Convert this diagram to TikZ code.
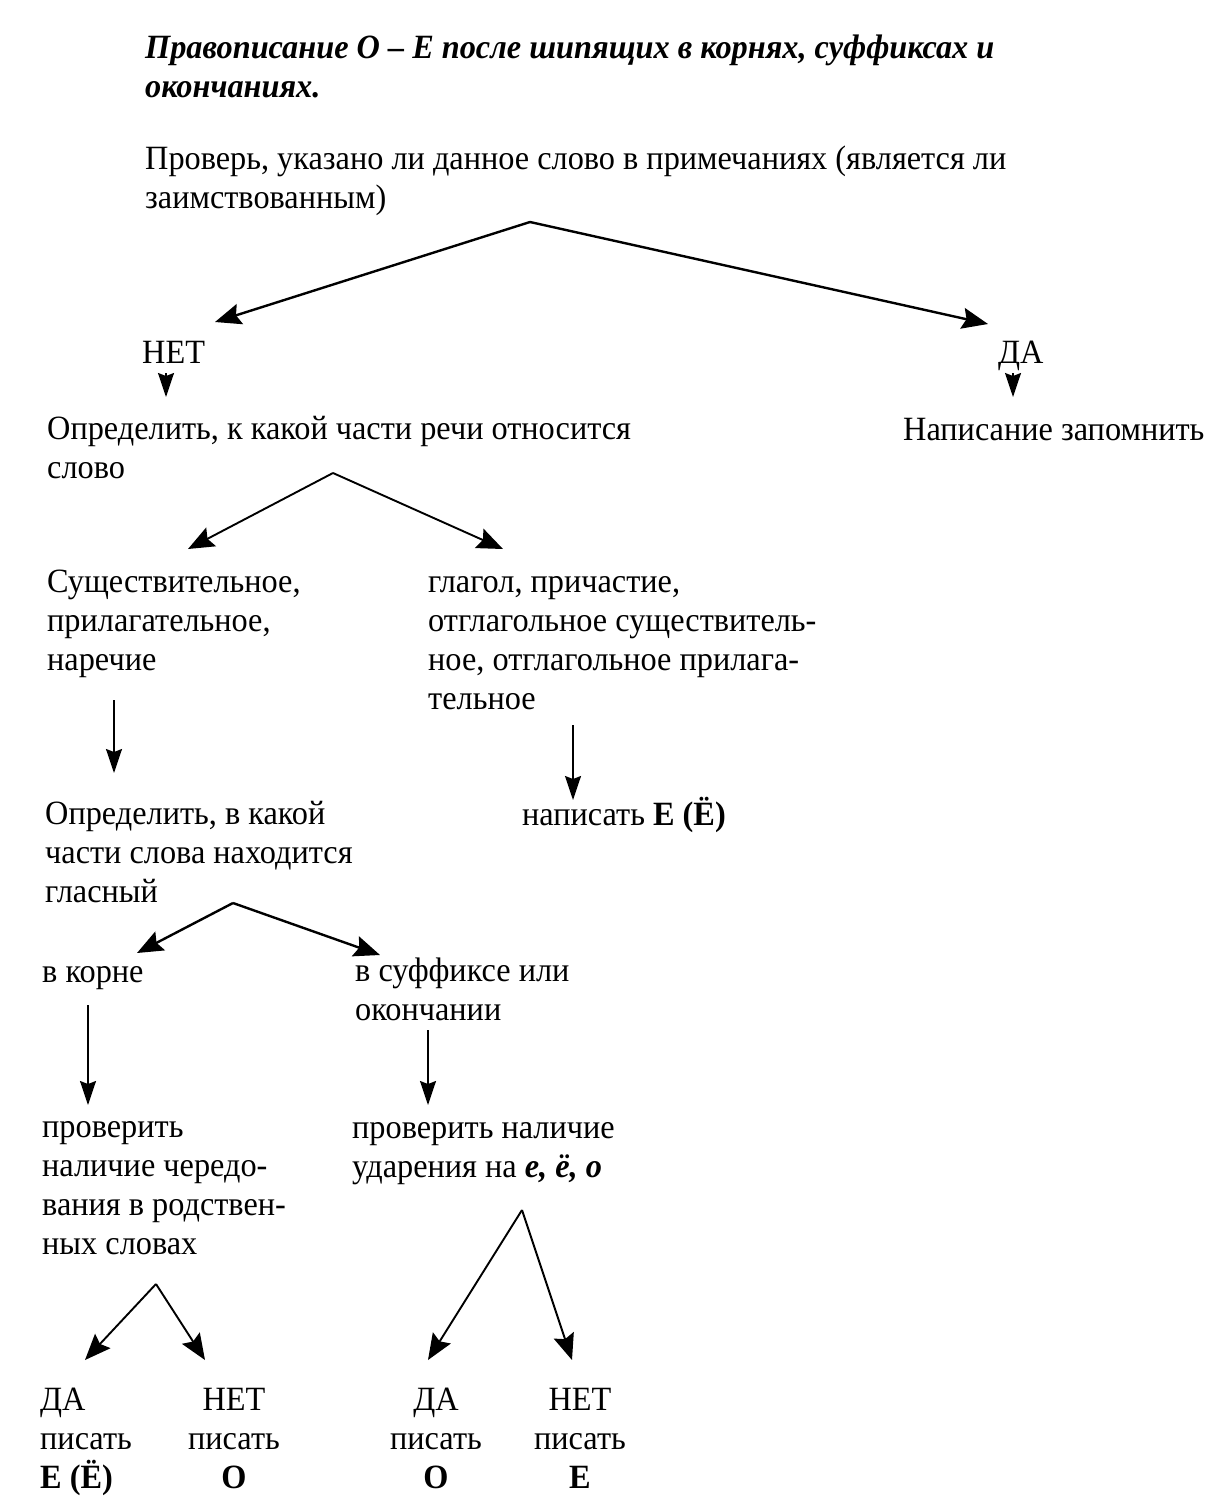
\documentclass[tikz,border=0pt]{standalone}
\usepackage{fontspec}
\setmainfont[FakeStretch=0.95]{Liberation Serif}
\usepackage{tikz}
\usetikzlibrary{arrows.meta}

\tikzset{
  txt/.style={anchor=base west,inner sep=0pt,align=left,font=\fontsize{34}{38.7}\selectfont},
  ctxt/.style={txt,anchor=base,align=center},
  bigarr/.style={line width=2.4pt,-{Stealth[length=26pt,width=21pt,inset=4pt]}},
  arr/.style={line width=1.6pt,-{Stealth[length=24pt,width=16pt,inset=3pt]}}
}

\begin{document}
\begin{tikzpicture}[x=1pt,y=1pt,yscale=-1,xscale=1]
\path[use as bounding box] (0,0) rectangle (1229,1500);

% Text Node (y = baseline of the last line)
\node[txt,font=\fontsize{34}{38.7}\selectfont\bfseries\itshape] (title) at (145,97) {Правописание О -- Е после шипящих в корнях, суффиксах и\\окончаниях.};
% Text Node
\node[txt] (check) at (145,208) {Проверь, указано ли данное слово в примечаниях (является ли\\заимствованным)};
% Text Node
\node[txt] (net) at (142,363) {НЕТ};
% Text Node
\node[txt] (da) at (998,363) {ДА};
% Text Node
\node[txt] (pos) at (47,478) {Определить, к какой части речи относится\\слово};
% Text Node
\node[txt] (remember) at (903,440) {Написание запомнить};
% Text Node
\node[txt] (noun) at (47,670) {Существительное,\\прилагательное,\\наречие};
% Text Node
\node[txt] (verb) at (428,709) {глагол, причастие,\\отглагольное существитель-\\ное, отглагольное прилага-\\тельное};
% Text Node
\node[txt] (part) at (45,902) {Определить, в какой\\части слова находится\\гласный};
% Text Node
\node[txt] (writee) at (522,825) {написать \textbf{Е (Ё)}};
% Text Node
\node[txt] (root) at (42,982) {в корне};
% Text Node
\node[txt] (suffix) at (355,1020) {в суффиксе или\\окончании};
% Text Node
\node[txt] (alter) at (42,1254) {проверить\\наличие чередо-\\вания в родствен-\\ных словах};
% Text Node
\node[txt] (stress) at (352,1177) {проверить наличие\\ударения на \textbf{\textit{е, ё, о}}};
% Text Node
\node[txt] (rootyes) at (40,1488) {ДА\\писать\\\textbf{Е (Ё)}};
% Text Node
\node[ctxt] (rootno) at (234,1488) {НЕТ\\писать\\\textbf{О}};
% Text Node
\node[ctxt] (sufyes) at (436,1488) {ДА\\писать\\\textbf{О}};
% Text Node
\node[ctxt] (sufno) at (580,1488) {НЕТ\\писать\\\textbf{Е}};

% arrow ends
\coordinate (c1) at (530,222);
\coordinate (c1l) at (215,322);
\coordinate (c1r) at (988,324);
\coordinate (n1) at (166,373);
\coordinate (n2) at (166,397);
\coordinate (d1) at (1013,373);
\coordinate (d2) at (1013,397);
\coordinate (c2) at (333,473);
\coordinate (c2l) at (188,549);
\coordinate (c2r) at (503,549);
\coordinate (s1) at (114,700);
\coordinate (s2) at (114,773);
\coordinate (v1) at (573,725);
\coordinate (v2) at (573,800);
\coordinate (c3) at (233,903);
\coordinate (c3l) at (137,953);
\coordinate (c3r) at (380,955);
\coordinate (r1) at (88,1005);
\coordinate (r2) at (88,1105);
\coordinate (o1) at (428,1030);
\coordinate (o2) at (428,1105);
\coordinate (c4) at (156,1284);
\coordinate (c4l) at (85,1360);
\coordinate (c4r) at (205,1360);
\coordinate (c5) at (522,1210);
\coordinate (c5l) at (428,1360);
\coordinate (c5r) at (572,1360);

%Straight Lines
\draw[bigarr] (c1) -- (c1l);
\draw[bigarr] (c1) -- (c1r);
%Straight Lines
\draw[arr] (n1) -- (n2);
\draw[arr] (d1) -- (d2);
%Straight Lines
\draw[bigarr,line width=1.9pt] (c2) -- (c2l);
\draw[bigarr,line width=1.9pt] (c2) -- (c2r);
%Straight Lines
\draw[arr] (s1) -- (s2);
\draw[arr] (v1) -- (v2);
%Straight Lines
\draw[bigarr] (c3) -- (c3l);
\draw[bigarr] (c3) -- (c3r);
%Straight Lines
\draw[arr] (r1) -- (r2);
\draw[arr] (o1) -- (o2);
%Straight Lines
\draw[bigarr,line width=1.9pt] (c4) -- (c4l);
\draw[bigarr,line width=1.9pt] (c4) -- (c4r);
\draw[bigarr,line width=1.9pt] (c5) -- (c5l);
\draw[bigarr,line width=1.9pt] (c5) -- (c5r);

\end{tikzpicture}
\end{document}
